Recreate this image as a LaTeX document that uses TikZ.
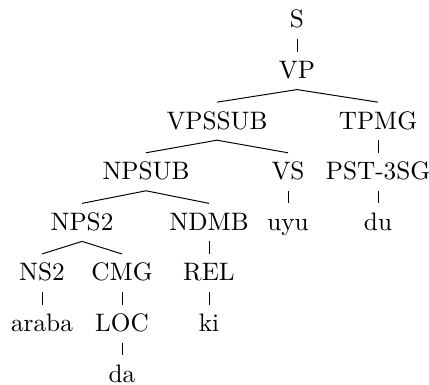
\documentclass[tikz,border=0pt]{standalone}
\usetikzlibrary{calc}
\tikzset{
  lbl/.style={anchor=base, inner sep=0pt, font=\fontsize{10.3}{12}\selectfont},
  edge/.style={line width=0.4pt, black}
}
\newcommand\treeedge[2]{\draw[edge] ($(#1.base)+(0,-11)$) -- ($(#2.base)+(0,27)$);}
\begin{document}
\begin{tikzpicture}[x=0.408pt,y=0.408pt]
\useasboundingbox (0,0) rectangle (429,385);
% level baselines
\def\la{357}\def\lb{306.4}\def\lc{255.8}\def\ld{205.2}
\def\le{154.6}\def\lf{104}\def\lg{53.4}\def\lh{2.8}
\node[lbl] (S) at (297,\la) {S};
\node[lbl] (VP) at (297,\lb) {VP};
\node[lbl] (VPSSUB) at (217,\lc) {VPSSUB};
\node[lbl] (TPMG) at (378,\lc) {TPMG};
\node[lbl] (NPSUB) at (146,\ld) {NPSUB};
\node[lbl] (VS) at (288,\ld) {VS};
\node[lbl] (PST) at (378,\ld) {PST-3SG};
\node[lbl] (NPS2) at (82,\le) {NPS2};
\node[lbl] (NDMB) at (209,\le) {NDMB};
\node[lbl] (uyu) at (288,\le) {uyu};
\node[lbl] (du) at (378,\le) {du};
\node[lbl] (NS2) at (42,\lf) {NS2};
\node[lbl] (CMG) at (122,\lf) {CMG};
\node[lbl] (REL) at (209,\lf) {REL};
\node[lbl] (araba) at (42,\lg) {araba};
\node[lbl] (LOC) at (122,\lg) {LOC};
\node[lbl] (ki) at (209,\lg) {ki};
\node[lbl] (da) at (122,\lh) {da};
\treeedge{S}{VP}
\treeedge{VP}{VPSSUB}
\treeedge{VP}{TPMG}
\treeedge{VPSSUB}{NPSUB}
\treeedge{VPSSUB}{VS}
\treeedge{TPMG}{PST}
\treeedge{NPSUB}{NPS2}
\treeedge{NPSUB}{NDMB}
\treeedge{VS}{uyu}
\treeedge{PST}{du}
\treeedge{NPS2}{NS2}
\treeedge{NPS2}{CMG}
\treeedge{NDMB}{REL}
\treeedge{NS2}{araba}
\treeedge{CMG}{LOC}
\treeedge{REL}{ki}
\treeedge{LOC}{da}
\end{tikzpicture}
\end{document}
